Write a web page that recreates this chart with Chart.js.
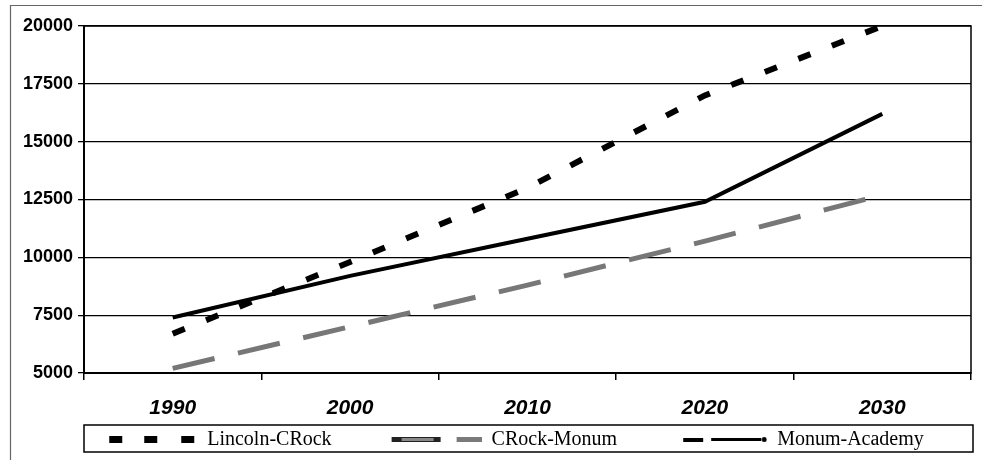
<!DOCTYPE html>
<html>
<head>
<meta charset="utf-8">
<script src="https://cdn.jsdelivr.net/npm/chart.js@4/dist/chart.umd.min.js"></script>
<style>
  html, body { margin: 0; padding: 0; background: #fff; }
</style>
</head>
<body>
<canvas id="grafico" width="1000" height="460"></canvas>
<script>
const anos = ['1990', '2000', '2010', '2020', '2030'];
const lincolnCRock = [6700, 9800, 13000, 17000, 20000];
const crockMonum = [5200, 7000, 8800, 10700, 12700];
const monumAcademy = [7400, 9200, 10800, 12400, 16200];
const yTicks = [5000, 7500, 10000, 12500, 15000, 17500, 20000];

// amostras da legenda (linha desenhada no lado direito da caixa)
const LARG = 140;
function amostra(desenho) {
  const c = document.createElement('canvas');
  c.width = LARG; c.height = 12;
  desenho(c.getContext('2d'));
  return c;
}
const amostras = [
  amostra(function(ctx) {
    ctx.fillStyle = '#000';
    ctx.fillRect(52, 2, 13, 7);
    ctx.fillRect(87, 2, 13, 7);
    ctx.fillRect(124, 2, 13, 7);
  }),
  amostra(function(ctx) {
    ctx.fillStyle = '#222';
    ctx.fillRect(50, 3, 49, 5);
    ctx.fillStyle = '#888';
    ctx.fillRect(60, 4, 32, 3);
    ctx.fillStyle = '#7a7a7a';
    ctx.fillRect(115, 3, 25, 5);
  }),
  amostra(function(ctx) {
    ctx.fillStyle = '#000';
    ctx.fillRect(56, 4, 20, 4);
    ctx.fillRect(84, 4, 50, 3);
    ctx.beginPath(); ctx.arc(137, 5.5, 2.5, 0, Math.PI * 2); ctx.fill();
  })
];

const molduras = {
  id: 'molduras',
  afterDraw(chart) {
    const ctx = chart.ctx, a = chart.chartArea, lg = chart.legend;
    ctx.save();
    ctx.strokeStyle = '#000';
    ctx.lineWidth = 1.5;
    ctx.strokeRect(a.left, a.top, a.right - a.left, a.bottom - a.top);
    ctx.strokeRect(a.left, lg.top + 5, a.right - a.left + 2, 27);
    ctx.strokeStyle = '#666';
    ctx.lineWidth = 1.2;
    ctx.beginPath();
    ctx.moveTo(10.5, 460); ctx.lineTo(10.5, 5.5); ctx.lineTo(982, 5.5);
    ctx.stroke();
    ctx.restore();
  }
};

new Chart(document.getElementById('grafico'), {
  type: 'line',
  data: {
    labels: anos,
    datasets: [{
        label: 'Lincoln-CRock',
        data: lincolnCRock,
        borderColor: '#000',
        backgroundColor: '#000',
        borderWidth: 6,
        borderDash: [13, 23],
        fill: false
      }, {
        label: 'CRock-Monum',
        data: crockMonum,
        borderColor: '#777',
        backgroundColor: '#777',
        borderWidth: 5,
        borderDash: [43, 24],
        fill: false
      }, {
        label: 'Monum-Academy',
        data: monumAcademy,
        borderColor: '#000',
        backgroundColor: '#000',
        borderWidth: 4,
        fill: false
      }
    ]
  },
  options: {
    responsive: false,
    animation: false,
    tension: 0,
    elements: { point: { radius: 0, hoverRadius: 0 } },
    layout: { padding: { left: 10, right: 29, top: 26, bottom: 0 } },
    plugins: {
      tooltip: { enabled: false },
      legend: {
        position: 'bottom',
        labels: {
          usePointStyle: true,
          pointStyleWidth: LARG,
          padding: 10,
          color: '#000',
          font: { family: 'Liberation Serif', size: 20 },
          generateLabels: function(chart) {
            const itens = Chart.defaults.plugins.legend.labels.generateLabels(chart);
            itens.forEach(function(it, i) { it.pointStyle = amostras[i]; });
            return itens;
          }
        }
      }
    },
    scales: {
      x: {
        offset: true,
        afterFit: function(scale) { scale.height = 47; },
        grid: { offset: true, drawOnChartArea: false, drawTicks: true, tickLength: 7, color: '#000', lineWidth: 1.5 },
        border: { color: '#000', width: 2 },
        ticks: {
          color: '#000', padding: 16, maxRotation: 0,
          font: { family: 'Liberation Sans', size: 21, weight: 'bold', style: 'italic' }
        }
      },
      y: {
        min: yTicks[0],
        max: yTicks[yTicks.length - 1],
        afterFit: function(scale) { scale.width = 74; },
        grid: { color: '#000', lineWidth: 1.3, tickLength: 6 },
        border: { color: '#000', width: 2 },
        ticks: {
          stepSize: yTicks[1] - yTicks[0],
          callback: function(v) { return String(v); },
          color: '#000', padding: 5,
          font: { family: 'Liberation Sans', size: 18, weight: 'bold' }
        }
      }
    }
  },
  plugins: [molduras]
});
</script>
</body>
</html>
